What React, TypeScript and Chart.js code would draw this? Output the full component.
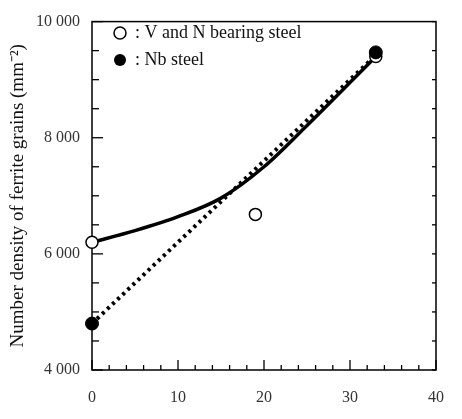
import React, { useEffect, useRef } from "react";
import { Chart, registerables } from "chart.js";
Chart.register(...registerables);

const vnX = [0, 19, 33];
const vnY = [6200, 6680, 9400];
const nbX = [0, 33];
const nbY = [4800, 9470];
const curveX = [0, 5, 10, 15, 20, 25, 30, 33];
const curveY = [6200, 6400, 6640, 6960, 7500, 8210, 8950, 9400];
const dotX = [0, 33];
const dotY = [4800, 9420];
const legendLabels = [": V and N bearing steel", ": Nb steel"];
const yTitle = "Number density of ferrite grains (mm\u207B\u00B2)";

const FONT = "'Liberation Serif', 'Times New Roman', serif";

const pts = (xs: number[], ys: number[]) => xs.map((x, i) => ({ x, y: ys[i] }));

const framePlugin = {
  id: "frame",
  beforeDatasetsDraw(chart: any) {
    const { ctx, chartArea: a, scales } = chart;
    const xs = scales.x;
    const ys = scales.y;
    ctx.save();
    ctx.strokeStyle = "#000";
    ctx.lineWidth = 1.5;
    ctx.strokeRect(a.left, a.top, a.right - a.left, a.bottom - a.top);
    ctx.lineWidth = 1.3;
    for (let v = 0; v <= 40; v += 2) {
      const p = xs.getPixelForValue(v);
      const len = v % 10 === 0 ? 10 : 5;
      ctx.beginPath();
      ctx.moveTo(p, a.bottom);
      ctx.lineTo(p, a.bottom - len);
      ctx.stroke();
    }
    for (let v = 4000; v <= 10000; v += 500) {
      const p = ys.getPixelForValue(v);
      const len = v % 2000 === 0 ? 11 : 7;
      ctx.beginPath();
      ctx.moveTo(a.left, p);
      ctx.lineTo(a.left + len, p);
      ctx.stroke();
      ctx.beginPath();
      ctx.moveTo(a.right, p);
      ctx.lineTo(a.right - 4, p);
      ctx.stroke();
    }
    ctx.restore();
  },
  afterDraw(chart: any) {
    const { ctx } = chart;
    ctx.save();
    ctx.font = `18px ${FONT}`;
    ctx.textBaseline = "middle";
    const rows = [33, 60];
    rows.forEach((y, i) => {
      ctx.beginPath();
      ctx.arc(120, y, 6, 0, Math.PI * 2);
      if (i === 0) {
        ctx.fillStyle = "#fff";
        ctx.fill();
        ctx.lineWidth = 1.5;
        ctx.strokeStyle = "#000";
        ctx.stroke();
      } else {
        ctx.fillStyle = "#000";
        ctx.fill();
      }
      ctx.fillStyle = "#111";
      ctx.fillText(legendLabels[i], 135, y);
    });
    ctx.restore();
  },
};

export default function App() {
  const ref = useRef<HTMLCanvasElement>(null);
  useEffect(() => {
    if (!ref.current) return;
    const chart = new Chart(ref.current, {
      type: "scatter",
      data: {
        datasets: [
          {
            label: "Nb steel",
            data: pts(nbX, nbY),
            pointRadius: 6.5,
            pointBackgroundColor: "#000",
            pointBorderColor: "#000",
            pointBorderWidth: 1,
            showLine: false,
            order: 0,
            clip: false,
          } as any,
          {
            label: "V and N bearing steel",
            data: pts(vnX, vnY),
            pointRadius: 6,
            pointBackgroundColor: "#fff",
            pointBorderColor: "#000",
            pointBorderWidth: 1.5,
            showLine: false,
            order: 1,
            clip: false,
          },
          {
            label: "curve",
            data: pts(curveX, curveY),
            showLine: true,
            borderColor: "#000",
            borderWidth: 3.5,
            pointRadius: 0,
            cubicInterpolationMode: "monotone",
            order: 2,
            clip: false,
          },
          {
            label: "dotted",
            data: pts(dotX, dotY),
            showLine: true,
            borderColor: "#000",
            borderWidth: 4,
            borderDash: [3, 4],
            borderCapStyle: "butt",
            pointRadius: 0,
            order: 3,
            clip: false,
          },
        ],
      },
      options: {
        animation: false,
        responsive: false,
        layout: { padding: { left: 4, top: 12, right: 12, bottom: 0 } },
        plugins: { legend: { display: false }, tooltip: { enabled: false } },
        scales: {
          x: {
            type: "linear",
            min: 0,
            max: 40,
            grid: { display: false, drawTicks: false },
            border: { display: false },
            ticks: {
              stepSize: 10,
              padding: 18,
              color: "#333",
              font: { family: FONT, size: 16 },
            },
            afterFit: (s: any) => {
              s.height = 49;
            },
          },
          y: {
            type: "linear",
            min: 4000,
            max: 10000,
            grid: { display: false, drawTicks: false },
            border: { display: false },
            ticks: {
              stepSize: 2000,
              padding: 12,
              color: "#333",
              font: { family: FONT, size: 16 },
              callback: (v: any) => String(v).replace(/\B(?=(\d{3})+(?!\d))/g, " "),
            },
            title: {
              display: true,
              text: yTitle,
              color: "#111",
              padding: { top: 3, bottom: 0 },
              font: { family: FONT, size: 19 },
            },
            afterFit: (s: any) => {
              s.width = 88;
            },
          },
        },
      },
      plugins: [framePlugin],
    });
    return () => chart.destroy();
  }, []);
  return (
    <div style={{ position: "absolute", left: 0, top: 0, width: 462, height: 419, background: "#fff" }}>
      <canvas ref={ref} width={462} height={419} />
    </div>
  );
}
